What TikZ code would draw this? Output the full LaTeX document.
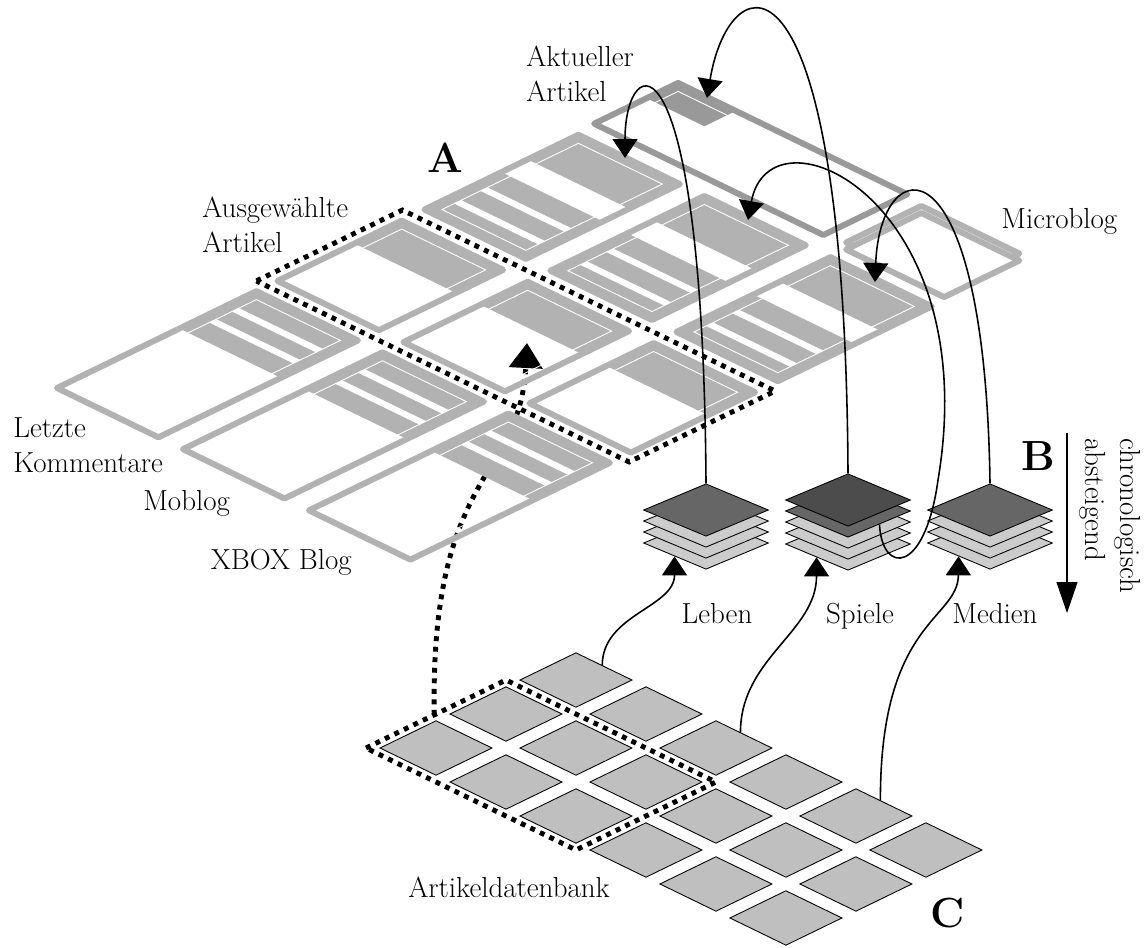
\documentclass[tikz,border=0pt]{standalone}
\usepackage{tikz}
\usetikzlibrary{arrows.meta,shapes.geometric}

\begin{document}
\begin{tikzpicture}[x=0.02cm,y=-0.02cm,
  every node/.style={font=\fontsize{16.5}{20}\selectfont},
  big/.style={font=\fontsize{24}{28}\selectfont\bfseries},
  dbtile/.style={fill=black!25,draw=black,line width=0.5pt},
  pageframe/.style={draw=black!30,line width=3.4pt,line join=round},
  graybox/.style={fill=black!30},
  whitebar/.style={fill=white},
  innerline/.style={draw=white,line width=0.5pt},
  dotsel/.style={draw=black,line width=2.8pt,dash pattern=on 2.8pt off 3.2pt},
  stacklayer/.style={diamond,draw=black,line width=0.5pt,minimum width=2.5cm,minimum height=1.05cm,inner sep=0pt},
  feedarrow/.style={draw=black,line width=0.9pt,-{Triangle[length=0.38cm,width=0.5cm]}}]
\useasboundingbox (0,0) rectangle (1148,947);

% Artikeldatenbank
\begin{scope}[shift={(380,748)},x=1cm,y=1cm,cm={0.7,-0.34,0.7,0.34,(0,0)}]
\filldraw[dbtile] (0,0) rectangle +(1.6,1.6);
\filldraw[dbtile] (0,2) rectangle +(1.6,1.6);
\filldraw[dbtile] (0,4) rectangle +(1.6,1.6);
\filldraw[dbtile] (2,0) rectangle +(1.6,1.6);
\filldraw[dbtile] (2,2) rectangle +(1.6,1.6);
\filldraw[dbtile] (2,4) rectangle +(1.6,1.6);
\filldraw[dbtile] (4,0) rectangle +(1.6,1.6);
\filldraw[dbtile] (4,2) rectangle +(1.6,1.6);
\filldraw[dbtile] (4,4) rectangle +(1.6,1.6);
\filldraw[dbtile] (6,0) rectangle +(1.6,1.6);
\filldraw[dbtile] (6,2) rectangle +(1.6,1.6);
\filldraw[dbtile] (6,4) rectangle +(1.6,1.6);
\filldraw[dbtile] (8,0) rectangle +(1.6,1.6);
\filldraw[dbtile] (8,2) rectangle +(1.6,1.6);
\filldraw[dbtile] (8,4) rectangle +(1.6,1.6);
\filldraw[dbtile] (10,0) rectangle +(1.6,1.6);
\filldraw[dbtile] (10,2) rectangle +(1.6,1.6);
\filldraw[dbtile] (10,4) rectangle +(1.6,1.6);
\draw[dotsel] (-0.2,-0.2) rectangle (5.8,3.8);
\coordinate (dbsel) at (-0.2,1.75);
\coordinate (dbleben) at (0.75,5.6);
\coordinate (dbspiele) at (4.7,5.6);
\coordinate (dbmedien) at (8.7,5.6);
\end{scope}

\coordinate (tipsel) at (527,343);
\draw[dotsel,-{Triangle[length=0.5cm,width=0.66cm]}] (dbsel) .. controls (430,470) and (520,480) .. (tipsel);

% Seite A
\begin{scope}[shift={(50,388)},x=1cm,y=1cm,cm={0.7,-0.34,0.7,0.34,(0,0)}]
\fill[graybox] (0.1,3.6) rectangle (3.0,5.8);
\fill[whitebar] (0.35,4.2) rectangle (2.75,4.4);
\fill[whitebar] (0.35,4.85) rectangle (2.75,5.05);
\draw[innerline] (0.35,0.35) rectangle (2.75,5.55);
\draw[pageframe] (0.1,0.1) rectangle (3.0,5.8);
\fill[graybox] (3.7,3.6) rectangle (6.6,5.8);
\fill[whitebar] (3.95,4.2) rectangle (6.35,4.4);
\fill[whitebar] (3.95,4.85) rectangle (6.35,5.05);
\draw[innerline] (3.95,0.35) rectangle (6.35,5.55);
\draw[pageframe] (3.7,0.1) rectangle (6.6,5.8);
\fill[graybox] (7.3,3.6) rectangle (10.2,5.8);
\fill[whitebar] (7.55,4.2) rectangle (9.95,4.4);
\fill[whitebar] (7.55,4.85) rectangle (9.95,5.05);
\draw[innerline] (7.55,0.35) rectangle (9.95,5.55);
\draw[pageframe] (7.3,0.1) rectangle (10.2,5.8);

\fill[graybox] (0.1,8.6) rectangle (3.0,9.95);
\draw[innerline] (0.35,6.65) rectangle (2.75,9.7);
\draw[pageframe] (0.1,6.4) rectangle (3.0,9.95);
\fill[graybox] (3.7,8.6) rectangle (6.6,9.95);
\draw[innerline] (3.95,6.65) rectangle (6.35,9.7);
\draw[pageframe] (3.7,6.4) rectangle (6.6,9.95);
\fill[graybox] (7.3,8.6) rectangle (10.2,9.95);
\draw[innerline] (7.55,6.65) rectangle (9.95,9.7);
\draw[pageframe] (7.3,6.4) rectangle (10.2,9.95);

\fill[graybox] (0.1,10.6) rectangle (3.0,12.8);
\fill[graybox] (0.1,13.55) rectangle (3.0,15.0);
\fill[whitebar] (0.35,11.2) rectangle (2.75,11.4);
\fill[whitebar] (0.35,11.95) rectangle (2.75,12.15);
\draw[innerline] (0.35,10.85) rectangle (2.75,14.75);
\draw[pageframe] (0.1,10.6) rectangle (3.0,15.0);
\fill[graybox] (3.7,10.6) rectangle (6.6,12.8);
\fill[graybox] (3.7,13.55) rectangle (6.6,15.0);
\fill[whitebar] (3.95,11.2) rectangle (6.35,11.4);
\fill[whitebar] (3.95,11.95) rectangle (6.35,12.15);
\draw[innerline] (3.95,10.85) rectangle (6.35,14.75);
\draw[pageframe] (3.7,10.6) rectangle (6.6,15.0);
\fill[graybox] (7.3,10.6) rectangle (10.2,12.8);
\fill[graybox] (7.3,13.55) rectangle (10.2,15.0);
\fill[whitebar] (7.55,11.2) rectangle (9.95,11.4);
\fill[whitebar] (7.55,11.95) rectangle (9.95,12.15);
\draw[innerline] (7.55,10.85) rectangle (9.95,14.75);
\draw[pageframe] (7.3,10.6) rectangle (10.2,15.0);

\fill[black!40] (0.0,17.05) rectangle (1.65,17.95);
\draw[innerline] (0.25,15.8) rectangle (6.3,17.7);
\draw[pageframe,draw=black!40] (0.0,15.55) rectangle (6.55,17.95);

\draw[pageframe] (7.094,15.656) rectangle (9.894,17.806);
\filldraw[pageframe,fill=white] (7.3,15.45) rectangle (10.1,17.6);

\draw[dotsel] (-0.2,6.1) rectangle (10.45,10.27);
\end{scope}

% Kategorien B
\node[stacklayer,fill=black!20] (leben4) at (706,543) {};
\node[stacklayer,fill=black!20] (leben3) at (706,532) {};
\node[stacklayer,fill=black!20] (leben2) at (706,521) {};
\node[stacklayer,fill=black!60] (leben1) at (706,510) {};
\node[stacklayer,fill=black!20] (spiele5) at (848,544) {};
\node[stacklayer,fill=black!20] (spiele4) at (848,533) {};
\node[stacklayer,fill=black!20] (spiele3) at (848,522) {};
\node[stacklayer,fill=black!60] (spiele2) at (848,511) {};
\node[stacklayer,fill=black!70] (spiele1) at (848,500) {};
\node[stacklayer,fill=black!20] (medien4) at (990,543) {};
\node[stacklayer,fill=black!20] (medien3) at (990,532) {};
\node[stacklayer,fill=black!20] (medien2) at (990,521) {};
\node[stacklayer,fill=black!60] (medien1) at (990,510) {};

\coordinate (tipleben) at (625,158);
\coordinate (tipakt) at (707,98);
\coordinate (tipspiele) at (748,220);
\coordinate (tipmedien) at (875,282);
\draw[feedarrow] (leben1.north) .. controls (703,20) and (625,50) .. (tipleben);
\draw[feedarrow] (spiele1.north) .. controls (845,-70) and (730,-40) .. (tipakt);
\draw[feedarrow] (spiele2.south east) .. controls (882,575) and (925,575) .. (938,480) .. controls (985,200) and (770,100) .. (tipspiele);
\draw[feedarrow] (medien1.north) .. controls (985,130) and (880,150) .. (tipmedien);

\draw[feedarrow] (dbleben) to[out=90,in=-90] (leben4.south west);
\draw[feedarrow] (dbspiele) to[out=90,in=-90] (spiele5.south west);
\draw[feedarrow] (dbmedien) .. controls (880,620) and (958,620) .. (medien4.south west);

\coordinate (chrontop) at (1067,433);
\coordinate (chronbot) at (1067,613);
\draw[line width=0.6pt,-{Triangle[length=0.62cm,width=0.42cm]}] (chrontop) -- (chronbot);
\node[rotate=-90,anchor=west,align=left,inner sep=0pt] (chron) at (1110,438) {chronologisch\\absteigend};

\node[anchor=north west,align=left,inner sep=0pt] (aktuell) at (526,46) {Aktueller\\Artikel};
\node[anchor=north west,align=left,inner sep=0pt] (ausgew) at (202,197) {Ausgewählte\\Artikel};
\node[anchor=north west,align=left,inner sep=0pt] (letzte) at (13,417) {Letzte\\Kommentare};
\node[anchor=north west,inner sep=0pt] (moblog) at (143,490) {Moblog};
\node[anchor=north east,inner sep=0pt] (xbox) at (352,549) {XBOX Blog};
\node[anchor=north west,inner sep=0pt] (microblog) at (1001,208) {Microblog};
\node[anchor=base] (leben) at (717,623) {Leben};
\node[anchor=base] (spiele) at (860,623) {Spiele};
\node[anchor=base] (medien) at (995,623) {Medien};
\node[anchor=base west,inner sep=0pt] (datenbank) at (408,897) {Artikeldatenbank};
\node[big] (A) at (445,158) {A};
\node[big] (B) at (1038,456) {B};
\node[big] (C) at (948,913) {C};
\end{tikzpicture}
\end{document}
